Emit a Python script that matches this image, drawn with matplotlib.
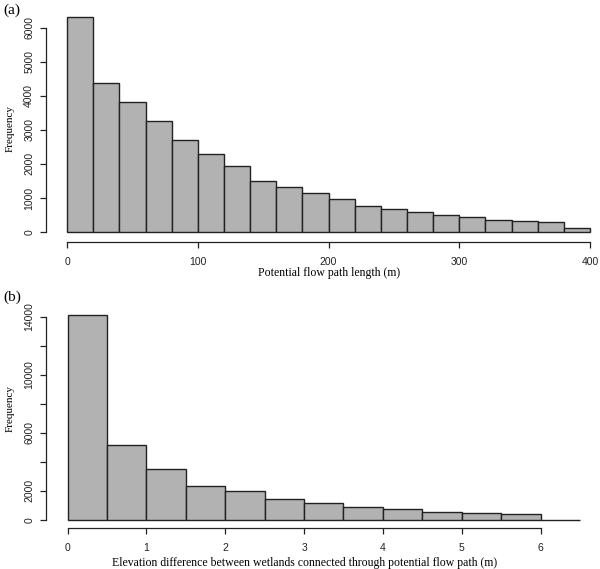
import numpy as np
import matplotlib
matplotlib.use('Agg')
import matplotlib.pyplot as plt

# (a) potential flow path length, bins of 20 m
len_edges = np.arange(0, 401, 20)
len_counts = [6310, 4385, 3810, 3260, 2705, 2292, 1942, 1500, 1325, 1148,
              962, 765, 686, 588, 510, 451, 363, 333, 304, 127]

# (b) elevation difference, bins of 0.5 m
elev_edges = np.arange(0, 6.51, 0.5)
elev_counts = [14110, 5180, 3500, 2350, 1980, 1450, 1175, 898, 737, 552,
               483, 414, 12]

len_ticks = [0, 100, 200, 300, 400]
len_yticks = [0, 1000, 2000, 3000, 4000, 5000, 6000]
elev_ticks = [0, 1, 2, 3, 4, 5, 6]
elev_yticks = [0, 2000, 4000, 6000, 8000, 10000, 12000, 14000]
elev_ylabels = ['0', '2000', '', '6000', '', '10000', '', '14000']

W, H = 600, 569
fig = plt.figure(figsize=(6, 5.69), dpi=100)

tickfont = 'Liberation Sans'
labfont = 'Liberation Serif'
bar_fc = '#b2b2b2'


def px_axes(left, top, right, bottom):
    return fig.add_axes([left / W, (H - bottom) / H, (right - left) / W, (bottom - top) / H])


def r_style(ax, xb, yb):
    for s in ['top', 'right']:
        ax.spines[s].set_visible(False)
    ax.spines['left'].set_bounds(*yb)
    ax.spines['bottom'].set_bounds(*xb)
    for s in ['left', 'bottom']:
        ax.spines[s].set_linewidth(0.9)
        ax.spines[s].set_color('#222222')
    ax.tick_params(direction='out', length=4.5, width=0.9, color='#222222',
                   labelsize=7.5)
    ax.tick_params(axis='x', pad=6.5)
    ax.tick_params(axis='y', pad=4)
    for lab in ax.get_xticklabels() + ax.get_yticklabels():
        lab.set_fontfamily(tickfont)
        lab.set_color('#222222')


# panel (a)
ax1 = px_axes(46, 8, 600, 242)
ax1.bar(len_edges[:-1], len_counts, width=20, align='edge',
        color=bar_fc, edgecolor='#222222', linewidth=1)
ax1.set_xlim(-16.2, 407.7)
ax1.set_ylim(-294, 6580)
ax1.set_xticks(len_ticks)
ax1.set_yticks(len_yticks)
ax1.set_yticklabels([str(v) for v in len_yticks], rotation=90, va='center')
r_style(ax1, (0, 400), (0, 6000))

# panel (b)
ax2 = px_axes(46, 305, 600, 528)
ax2.bar(elev_edges[:-1], elev_counts, width=0.5, align='edge',
        color=bar_fc, edgecolor='#222222', linewidth=1)
ax2.set_xlim(-0.275, 6.755)
ax2.set_ylim(-573, 14830)
ax2.set_xticks(elev_ticks)
ax2.set_yticks(elev_yticks)
ax2.set_yticklabels(elev_ylabels, rotation=90, va='center')
r_style(ax2, (0, 6), (0, 14000))

# axis titles and panel letters
fig.text(10 / W, 1 - 129 / H, 'Frequency', rotation=90, ha='center', va='center',
         family=labfont, fontsize=8)
fig.text(10 / W, 1 - 408 / H, 'Frequency', rotation=90, ha='center', va='center',
         family=labfont, fontsize=8)
fig.text(329 / W, 1 - 273 / H, 'Potential flow path length (m)', ha='center', va='center',
         family=labfont, fontsize=8.5)
fig.text(305 / W, 1 - 563 / H,
         'Elevation difference between wetlands connected through potential flow path (m)',
         ha='center', va='center', family=labfont, fontsize=8.5)
fig.text(3 / W, 1 - 10 / H, '(a)', ha='left', va='center', family=labfont, fontsize=11)
fig.text(3 / W, 1 - 297 / H, '(b)', ha='left', va='center', family=labfont, fontsize=11)

fig.savefig('out.png', dpi=100)
